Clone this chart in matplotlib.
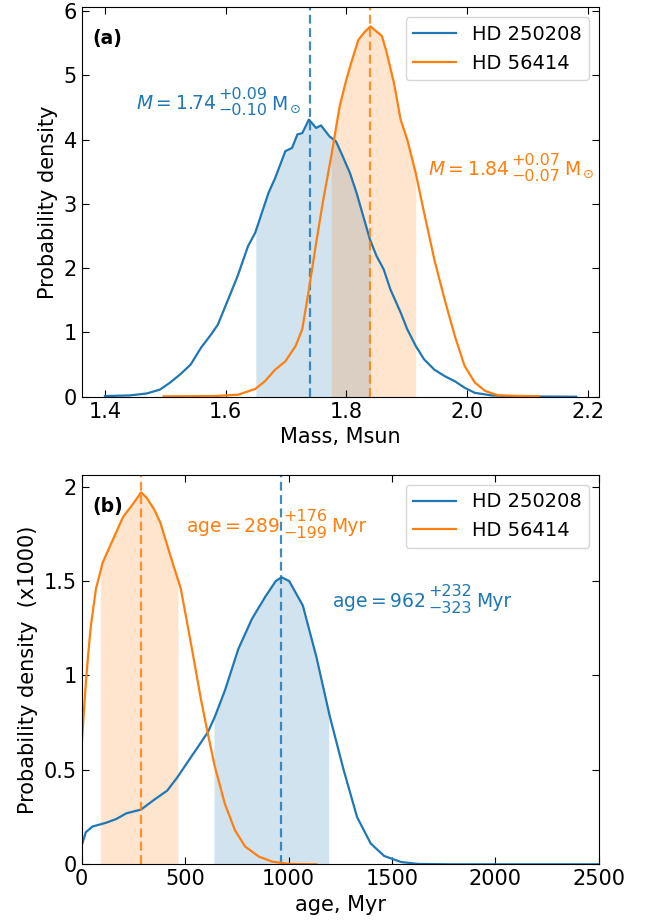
import numpy as np
import matplotlib
matplotlib.use("Agg")
import matplotlib.pyplot as plt
from matplotlib.transforms import ScaledTranslation

# --- panel (a): mass posteriors ---
mass_blue_x = [1.400, 1.441, 1.469, 1.491, 1.508, 1.525, 1.542, 1.559, 1.576, 1.587,
               1.604, 1.620, 1.637, 1.649, 1.660, 1.671, 1.682, 1.699, 1.710, 1.719,
               1.727, 1.738, 1.750, 1.758, 1.772, 1.783, 1.794, 1.806, 1.817, 1.828,
               1.839, 1.850, 1.862, 1.873, 1.890, 1.901, 1.915, 1.929, 1.946, 1.963,
               1.980, 1.996, 2.013, 2.041, 2.086, 2.181]
mass_blue_y = [0.01, 0.02, 0.05, 0.11, 0.22, 0.35, 0.50, 0.76, 0.97, 1.12,
               1.51, 1.88, 2.34, 2.55, 2.86, 3.17, 3.40, 3.82, 3.87, 4.08,
               4.10, 4.31, 4.18, 4.22, 4.05, 3.97, 3.74, 3.48, 3.17, 2.81,
               2.45, 2.19, 1.98, 1.67, 1.31, 1.05, 0.79, 0.58, 0.42, 0.32,
               0.24, 0.14, 0.06, 0.02, 0.005, 0.0]
mass_orange_x = [1.497, 1.581, 1.620, 1.649, 1.665, 1.682, 1.699, 1.716, 1.727, 1.738,
                 1.750, 1.761, 1.775, 1.789, 1.800, 1.808, 1.820, 1.831, 1.840, 1.850,
                 1.859, 1.867, 1.879, 1.890, 1.901, 1.915, 1.929, 1.946, 1.963, 1.980,
                 1.996, 2.013, 2.030, 2.052, 2.120]
mass_orange_y = [0.005, 0.01, 0.03, 0.12, 0.24, 0.42, 0.55, 0.79, 1.05, 1.67,
                 2.39, 3.02, 3.74, 4.52, 4.93, 5.19, 5.55, 5.68, 5.76, 5.68,
                 5.61, 5.35, 4.88, 4.31, 4.00, 3.48, 2.86, 2.13, 1.51, 0.94,
                 0.48, 0.22, 0.09, 0.02, 0.005]
mass_median = [1.74, 1.84]
mass_plus = ["+0.09", "+0.07"]
mass_minus = ["\u22120.10", "\u22120.07"]
mass_band = [(1.65, 1.84), (1.775, 1.915)]
mass_text_pos = [(1.451, 4.47), (1.935, 3.45)]

# --- panel (b): age posteriors (density x1000) ---
age_blue_x = [0, 20, 52, 118, 167, 216, 287, 348, 413, 462, 511, 561, 610, 643, 692,
              757, 823, 889, 938, 966, 1003, 1069, 1134, 1200, 1266, 1331, 1397,
              1462, 1544, 1626, 1790, 2500]
age_blue_y = [0.10, 0.17, 0.20, 0.22, 0.24, 0.27, 0.29, 0.34, 0.39, 0.46, 0.54, 0.62,
              0.70, 0.78, 0.92, 1.14, 1.30, 1.42, 1.50, 1.52, 1.50, 1.37, 1.10, 0.78,
              0.50, 0.25, 0.11, 0.044, 0.012, 0.002, 0.0, 0.0]
age_orange_x = [0, 10, 20, 32, 44, 69, 102, 151, 200, 249, 287, 315, 350, 380, 430, 479,
                528, 577, 610, 643, 692, 741, 790, 856, 921, 1003, 1134]
age_orange_y = [0.63, 0.80, 0.96, 1.12, 1.26, 1.46, 1.60, 1.72, 1.84, 1.91, 1.97, 1.94,
                1.88, 1.81, 1.63, 1.46, 1.17, 0.87, 0.69, 0.52, 0.32, 0.18, 0.094, 0.041,
                0.014, 0.002, 0.0]
age_median = [962, 289]
age_plus = ["+232", "+176"]
age_minus = ["\u2212323", "\u2212199"]
age_band = [(639, 1194), (90, 465)]
age_text_pos = [(1212, 1.364), (506, 1.762)]

labels = ["HD 250208", "HD 56414"]
colors = ["C0", "C1"]

plt.rcParams["font.family"] = "DejaVu Sans"
plt.rcParams["mathtext.fontset"] = "dejavusans"

fig = plt.figure(figsize=(6.51, 9.23), dpi=100)
ax1 = fig.add_axes([0.1255, 0.5702, 0.7945, 0.4219])
ax2 = fig.add_axes([0.1255, 0.0636, 0.7945, 0.4218])
renderer = fig.canvas.get_renderer()


def value_label(ax, x, y, base, sup, sub, unit, color):
    # value with stacked +/- errors, built from pieces so the scripts stay readable
    t = ax.text(x, y, base, color=color, fontsize=13.5, va="baseline")
    w = t.get_window_extent(renderer).width * 72 / fig.dpi
    def shifted(dx, dy):
        return ax.transData + ScaledTranslation(dx / 72, dy / 72, fig.dpi_scale_trans)
    t1 = ax.text(x, y, sup, color=color, fontsize=11.5, va="baseline",
                 transform=shifted(w + 1.5, 7.4))
    t2 = ax.text(x, y, sub, color=color, fontsize=11.5, va="baseline",
                 transform=shifted(w + 1.5, -4.3))
    ws = max(t1.get_window_extent(renderer).width,
             t2.get_window_extent(renderer).width) * 72 / fig.dpi
    ax.text(x, y, unit, color=color, fontsize=13.5, va="baseline",
            transform=shifted(w + ws + 4.5, 0))


def draw_panel(ax, curves, medians, bands):
    for (x, y), c, lab, med, (lo, hi) in zip(curves, colors, labels, medians, bands):
        x = np.asarray(x, float)
        y = np.asarray(y, float)
        ax.plot(x, y, color=c, lw=1.6, label=lab)
        inside = (x > lo) & (x < hi)
        fx = np.concatenate([[lo], x[inside], [hi]])
        fy = np.concatenate([[np.interp(lo, x, y)], y[inside], [np.interp(hi, x, y)]])
        ax.fill_between(fx, 0, fy, color=c, alpha=0.2, lw=0)
        ax.axvline(med, color=c, ls=(0, (4, 2)), lw=1.6, alpha=0.85)
    ax.tick_params(direction="in", top=True, right=True, labelsize=15, length=5)
    ax.legend(loc="upper right", fontsize=14, handlelength=2.2)


draw_panel(ax1, [(mass_blue_x, mass_blue_y), (mass_orange_x, mass_orange_y)],
           mass_median, mass_band)
ax1.set_xlim(1.3614, 2.2187)
ax1.set_ylim(0, 6.057)
ax1.set_xticks([1.4, 1.6, 1.8, 2.0, 2.2])
ax1.set_yticks(range(7))
ax1.set_xlabel("Mass, Msun", fontsize=15)
ax1.set_ylabel("Probability density", fontsize=15)
ax1.text(0.02, 0.92, "(a)", transform=ax1.transAxes, fontsize=13.5, fontweight="bold",
         va="center")
for med, sp, sm, (tx, ty), c in zip(mass_median, mass_plus, mass_minus, mass_text_pos, colors):
    value_label(ax1, tx, ty, r"$M = %.2f$" % med, sp, sm, r"$\mathrm{M}_\odot$", c)

draw_panel(ax2, [(age_blue_x, age_blue_y), (age_orange_x, age_orange_y)],
           age_median, age_band)
ax2.set_xlim(0, 2500)
ax2.set_ylim(0, 2.062)
ax2.set_xticks([0, 500, 1000, 1500, 2000, 2500])
ax2.set_yticks([0, 0.5, 1, 1.5, 2])
ax2.set_yticklabels(["0", "0.5", "1", "1.5", "2"])
ax2.set_xlabel("age, Myr", fontsize=15)
ax2.set_ylabel("Probability density  (x1000)", fontsize=15)
ax2.text(0.02, 0.92, "(b)", transform=ax2.transAxes, fontsize=13.5, fontweight="bold",
         va="center")
for med, sp, sm, (tx, ty), c in zip(age_median, age_plus, age_minus, age_text_pos, colors):
    value_label(ax2, tx, ty, r"$\mathrm{age} = %d$" % med, sp, sm, "Myr", c)

fig.savefig("out.png", dpi=100)
